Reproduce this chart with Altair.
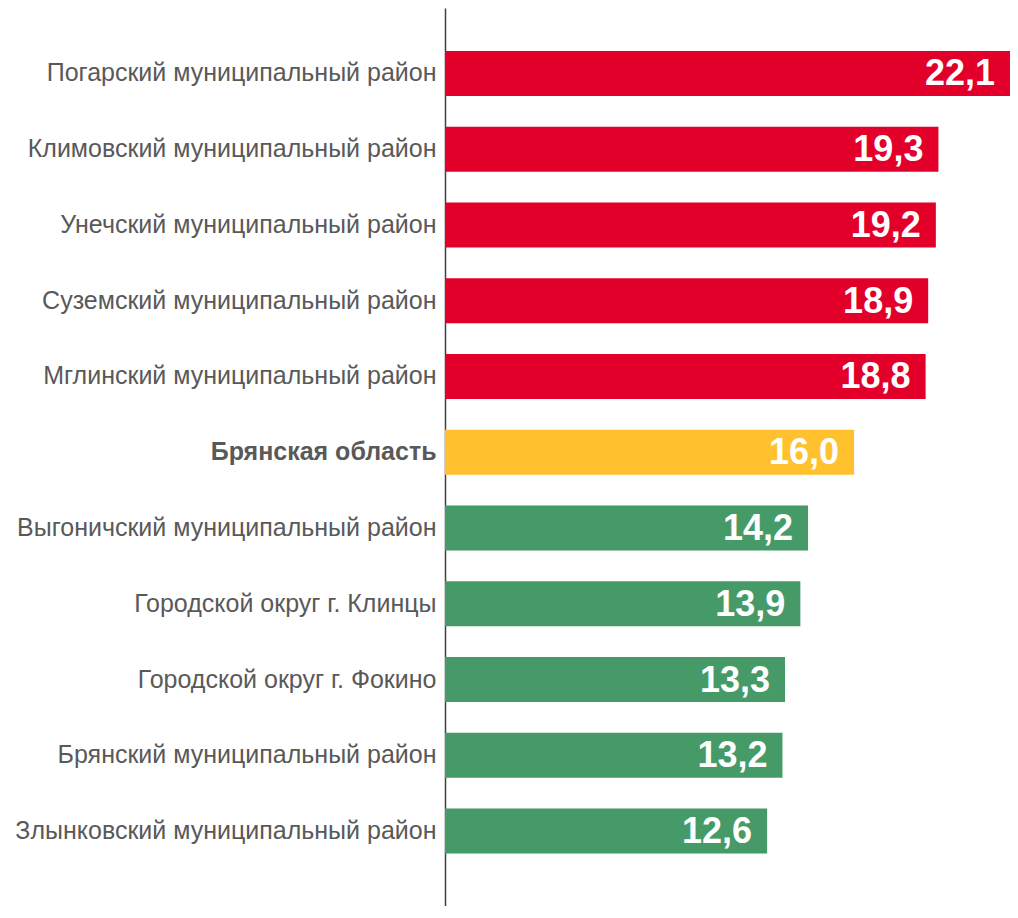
import altair as alt
import pandas as pd

names = [
    "Погарский муниципальный район",
    "Климовский муниципальный район",
    "Унечский муниципальный район",
    "Суземский муниципальный район",
    "Мглинский муниципальный район",
    "Брянская область",
    "Выгоничский муниципальный район",
    "Городской округ г. Клинцы",
    "Городской округ г. Фокино",
    "Брянский муниципальный район",
    "Злынковский муниципальный район",
]
values = [22.1, 19.3, 19.2, 18.9, 18.8, 16.0, 14.2, 13.9, 13.3, 13.2, 12.6]
groups = ["high", "high", "high", "high", "high", "region",
          "low", "low", "low", "low", "low"]

df = pd.DataFrame({"name": names, "value": values, "group": groups})

y_enc = alt.Y(
    "name:N",
    sort=names,
    title=None,
    scale=alt.Scale(paddingInner=0.406, paddingOuter=0.629, align=0.45),
    axis=alt.Axis(
        domain=True, domainColor="#404040", domainWidth=1.5,
        ticks=False, labelPadding=9, labelFont="Liberation Sans",
        labelFontSize=25, labelColor="#595959", labelLimit=0,
        labelFontWeight=alt.ExprRef(expr="datum.value == 'Брянская область' ? 'bold' : 'normal'"),
    ),
)

x_enc = alt.X(
    "value:Q",
    scale=alt.Scale(domain=[0, 22.1], nice=False, zero=True),
    axis=None,
)

bars = alt.Chart(df).mark_bar().encode(
    x=x_enc,
    y=y_enc,
    color=alt.Color(
        "group:N",
        scale=alt.Scale(domain=["high", "region", "low"],
                        range=["#E2002B", "#FFC22E", "#459A68"]),
        legend=None,
    ),
)

labels = alt.Chart(df).mark_text(
    align="right", baseline="middle", dx=-15, dy=1,
    font="Liberation Sans", fontSize=36, fontWeight="bold", color="white",
).transform_calculate(
    lbl="replace(format(datum.value, '.1f'), '.', ',')"
).encode(
    x=x_enc,
    y=alt.Y("name:N", sort=names),
    text="lbl:N",
)

chart = alt.layer(bars, labels).properties(
    width=565,
    height=898,
    autosize=alt.AutoSizeParams(type="none"),
    padding={"left": 437, "top": 0, "right": 0, "bottom": 0},
).configure_view(stroke=None)

chart.save("out.html", embed_options={"renderer": "svg", "actions": False})
